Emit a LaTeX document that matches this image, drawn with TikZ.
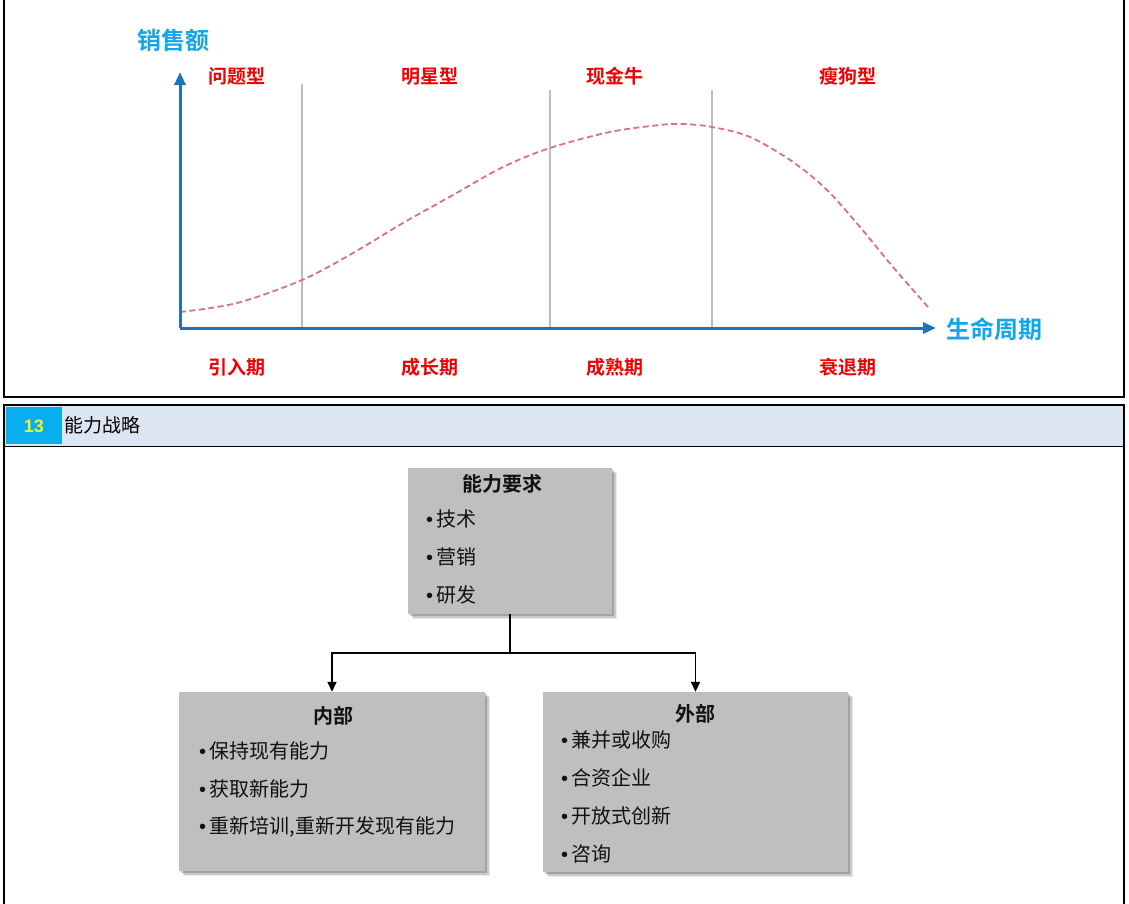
\documentclass[tikz,border=0pt]{standalone}
\usepackage{fontspec}
\setmainfont{Noto Sans CJK SC}[BoldFont={Noto Sans CJK SC Bold}]
\newfontfamily\latinfont{Liberation Sans}
\usepackage{xcolor}
\usetikzlibrary{arrows.meta,positioning,calc,shadows}
\definecolor{Ink}{HTML}{111111}
\definecolor{AxisBlue}{HTML}{1F72BD}
\definecolor{Sky}{HTML}{14A6E6}
\definecolor{Stage}{HTML}{F00000}
\definecolor{Trend}{HTML}{DE6F7D}
\definecolor{Divider}{HTML}{BDBDBD}
\definecolor{Card}{HTML}{BFBFBF}
\definecolor{Band}{HTML}{DCE6F2}
\definecolor{Tag}{HTML}{0AAEEF}
\definecolor{TagText}{HTML}{EEF232}
\newcommand{\dotitem}[1]{{\latinfont\textbullet}\hspace{3.5pt}#1}
\tikzset{
  frame/.style={draw=black,line width=2pt},
  axis/.style={draw=AxisBlue,line width=3pt,-{Triangle[length=13pt,width=11pt]}},
  axisLabel/.style={text=Sky,font=\bfseries\fontsize{24}{24}\selectfont,inner sep=0pt},
  stage/.style={text=Stage,font=\bfseries\fontsize{19}{19}\selectfont,inner sep=0pt},
  divider/.style={draw=Divider,line width=2.4pt},
  trend/.style={draw=Trend,line width=1.8pt,dash pattern=on 6pt off 3.5pt},
  card/.style={
    fill=Card,draw=none,inner sep=0pt,
    drop shadow={shadow xshift=5pt,shadow yshift=-5pt,fill=black,opacity=.08},
    drop shadow={shadow xshift=3.5pt,shadow yshift=-3.5pt,fill=black,opacity=.14},
    drop shadow={shadow xshift=2pt,shadow yshift=-2pt,fill=black,opacity=.2}
  },
  cardTitle/.style={text=Ink,font=\bfseries\fontsize{20}{20}\selectfont,inner sep=0pt},
  item/.style={text=Ink,font=\fontsize{20}{20}\selectfont,inner sep=0pt,anchor=west},
  arr/.style={-{Triangle[length=10pt,width=9pt]},line width=1.6pt,draw=black},
  link/.style={line width=1.6pt,draw=black}
}
\begin{document}
\begin{tikzpicture}[x=1pt,y=-1pt]
  \useasboundingbox (0,0) rectangle (1129,903);
  % upper panel: life cycle
  \draw[frame] (4,0) -- (4,397) -- (1124,397) -- (1124,0);
  \coordinate (origin) at (180,328);
  \coordinate (ytip) at (180,72);
  \coordinate (xtip) at (936,328);
  \foreach \x/\t in {302/84,550/90,712/90}
    \draw[divider] (\x,\t) -- (\x,327);
  \draw[trend] plot[smooth,tension=.55] coordinates {(180,312) (237,303) (302,280) (353,253) (403,223) (453,195) (503,167) (550,148) (610,132) (660,125) (683,124) (712,127) (750,137) (793,162) (827,190) (860,227) (893,267) (928,307)};
  \draw[axis] (origin) -- (ytip);
  \draw[axis] (origin) -- (xtip);
  \node[axisLabel] (sales) at (173,40) {销售额};
  \node[axisLabel,anchor=west] (cycle) at (946,329) {生命周期};
  \node[stage] (question) at (237,76) {问题型};
  \node[stage] (star) at (430,76) {明星型};
  \node[stage] (cow) at (615,76) {现金牛};
  \node[stage] (dog) at (848,76) {瘦狗型};
  \node[stage] (intro) at (237,367) {引入期};
  \node[stage] (growth) at (430,367) {成长期};
  \node[stage] (mature) at (615,367) {成熟期};
  \node[stage] (decline) at (848,367) {衰退期};
  % lower panel: capability strategy
  \fill[Band] (4,405) rectangle (1124,446);
  \fill[Tag] (6,407) rectangle (62,444);
  \draw[line width=1pt] (4,446) -- (1124,446);
  \draw[frame] (4,910) -- (4,405) -- (1124,405) -- (1124,910);
  \node[text=TagText,font=\latinfont\bfseries\fontsize{18}{18}\selectfont] (num) at (34,426) {13};
  \node[anchor=west,inner sep=0pt,font=\fontsize{19}{19}\selectfont] (head) at (64,425) {能力战略};
  \node[card,minimum width=204pt,minimum height=146pt] (need) at (510,541) {};
  \node[card,minimum width=306pt,minimum height=179pt] (inner) at (332,781.5) {};
  \node[card,minimum width=305pt,minimum height=180pt] (outer) at (695.5,782) {};
  \node[cardTitle] (needT) at (502,484) {能力要求};
  \node[item] (need1) at (426,519) {\dotitem{技术}};
  \node[item] (need2) at (426,557) {\dotitem{营销}};
  \node[item] (need3) at (426,595) {\dotitem{研发}};
  \node[cardTitle] (innerT) at (333,716) {内部};
  \node[item] (inner1) at (199,751) {\dotitem{保持现有能力}};
  \node[item] (inner2) at (199,789) {\dotitem{获取新能力}};
  \node[item] (inner3) at (199,827) {\dotitem{重新培训,重新开发现有能力}};
  \node[cardTitle] (outerT) at (695,714) {外部};
  \node[item] (outer1) at (561,740) {\dotitem{兼并或收购}};
  \node[item] (outer2) at (561,778) {\dotitem{合资企业}};
  \node[item] (outer3) at (561,816) {\dotitem{开放式创新}};
  \node[item] (outer4) at (561,854) {\dotitem{咨询}};
  \coordinate (split) at (510,653);
  \draw[link] (need.south) -- (split);
  \draw[arr] (split) -| (inner.north);
  \draw[arr] (split) -| (outer.north);
\end{tikzpicture}
\end{document}
